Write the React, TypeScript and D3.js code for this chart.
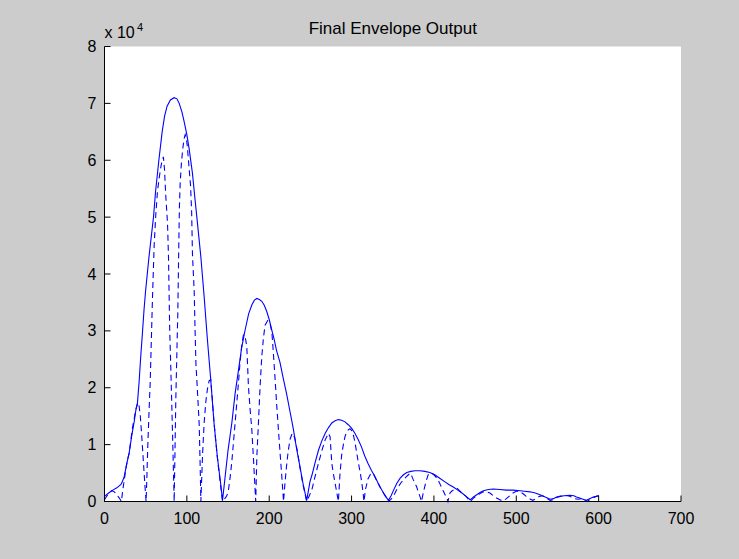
import React from "react";
import * as d3 from "d3";

// Axis ticks (y values are in units of 10^4)
const xTicks = [0, 100, 200, 300, 400, 500, 600, 700];
const yTicks = [0, 1, 2, 3, 4, 5, 6, 7, 8];

const titleText = "Final Envelope Output";

// Envelope (solid line): [sample, amplitude ×10^4]
const envelope: [number, number][] = [
  [0, 0.09], [5, 0.15], [10, 0.2], [15, 0.24], [20, 0.3], [22, 0.36], [24, 0.44], [27, 0.66],
  [30, 0.86], [33, 1.15], [36, 1.4], [38, 1.6], [40, 1.73], [42, 2.1], [44, 2.55], [46, 2.95],
  [48, 3.37], [50, 3.72], [54, 4.3], [59.5, 5.0], [62, 5.45], [66, 6.0], [70, 6.5], [73, 6.78],
  [76, 6.95], [80, 7.06], [84.5, 7.1], [88, 7.08], [90.7, 7.0], [94, 6.85], [96.7, 6.68],
  [100, 6.45], [102.8, 6.2], [106.8, 5.77], [110, 5.3], [112.9, 4.89], [117, 4.3], [121, 3.6],
  [125, 2.84], [129, 2.14], [133, 1.38], [137, 0.79], [141, 0.32], [143.3, 0.02],
  [146.5, 0.44], [150, 0.9], [154.6, 1.38], [158.6, 1.9], [162.6, 2.3], [166.5, 2.7],
  [170.8, 3.02], [175, 3.3], [179, 3.46], [182, 3.54], [185, 3.57], [188, 3.55], [191, 3.52],
  [194, 3.45], [197, 3.34], [200, 3.2], [203, 3.02], [206, 2.85], [209, 2.65], [213, 2.45],
  [217, 2.17], [221, 1.9], [225, 1.6], [229, 1.3], [233, 0.95], [237.5, 0.6], [241, 0.32],
  [245.5, 0.02],
  [249.5, 0.35], [252, 0.47], [256, 0.7], [260, 0.91], [264, 1.07], [268, 1.2], [272, 1.3],
  [276, 1.38], [280, 1.42], [284, 1.44], [288, 1.43], [292, 1.4], [296, 1.35], [300, 1.29],
  [304, 1.2], [308, 1.09], [312, 0.96], [316, 0.8], [320, 0.67], [324, 0.55], [328, 0.45],
  [332, 0.33], [336, 0.22], [340, 0.12], [344.7, 0.02],
  [348, 0.1], [351, 0.2], [355, 0.32], [359, 0.41], [363, 0.47], [367, 0.51], [372, 0.53],
  [377, 0.54], [383, 0.54], [389, 0.53], [395, 0.51], [401, 0.47], [407, 0.41], [413, 0.35],
  [418, 0.3], [424, 0.25], [429, 0.2], [434, 0.15], [439, 0.09], [444, 0.03],
  [448, 0.08], [452, 0.12], [456, 0.16], [460, 0.19], [466, 0.21], [472, 0.22], [480, 0.21],
  [488, 0.2], [496, 0.2], [504.5, 0.19], [510, 0.18], [516.6, 0.17], [523, 0.15],
  [528.8, 0.12], [535, 0.08], [541, 0.04],
  [545, 0.05], [549, 0.08], [553, 0.09], [558, 0.1], [565, 0.11], [570, 0.1], [573, 0.08],
  [577, 0.06], [581, 0.04], [585, 0.02], [589, 0.05], [593.5, 0.08], [597, 0.09], [600, 0.1],
];

// Rectified signal (dashed line): [sample, amplitude ×10^4]
const rectified: [number, number][] = [
  [0, 0.03], [3, 0.1], [6, 0.16], [9, 0.19], [12, 0.17], [15, 0.12], [18, 0.06], [20.5, 0],
  [22, 0.18], [24, 0.38], [26, 0.58], [28, 0.74], [30, 0.85], [32, 1.08], [34, 1.3], [36, 1.45],
  [38, 1.62], [40.5, 1.74], [42, 1.68], [43.5, 1.5], [45, 1.2], [47, 0.75], [49, 0.3], [50.5, 0],
  [51.5, 0.45], [52.5, 0.95], [54, 1.55], [55.5, 2.1], [57, 2.9], [58.3, 3.6], [60.3, 4.5],
  [62.3, 5.05], [64.3, 5.45], [66.5, 5.7], [68.4, 5.88], [70, 6.0], [71.5, 6.06], [72.8, 5.85],
  [74.5, 5.35], [76.5, 4.9], [77.7, 4.3], [78.5, 3.6], [79.2, 3.0], [80.6, 2.3], [82.6, 1.2],
  [84.6, 0],
  [85.6, 0.9], [86.6, 1.8], [88, 2.7], [89, 3.3], [89.6, 3.9], [90.3, 4.6], [91, 5.2],
  [91.9, 5.6], [93.4, 5.95], [95, 6.2], [96.7, 6.38], [98, 6.45], [99.3, 6.4], [100.5, 6.25],
  [102.8, 5.85], [104.5, 5.55], [105.8, 5.1], [106.8, 4.35], [108.9, 3.7], [110, 3.0],
  [111, 2.43], [113, 1.9], [115, 1.35], [116.2, 0.6], [117, 0],
  [118, 0.4], [119, 0.8], [120, 1.1], [121, 1.38], [123, 1.75], [125, 1.98], [127, 2.12],
  [129, 2.14], [131, 1.78], [133, 1.38], [135, 1.08], [137, 0.78], [139, 0.52], [141, 0.28],
  [143.3, 0],
  [146, 0.05], [148.5, 0.1], [150.5, 0.2], [152.5, 0.42], [154.6, 0.7], [156.6, 1.04],
  [158.6, 1.38], [160.6, 1.73], [162.6, 2.08], [164.6, 2.45], [166.7, 2.75], [168.7, 2.93],
  [170.8, 2.9], [172.8, 2.72], [174.8, 2.02], [176.8, 1.62], [178.9, 1.26], [181, 0.72],
  [182.9, 0.2], [183.6, 0],
  [185, 0.8], [186.9, 1.38], [189, 2.05], [191, 2.55], [193, 2.88], [195, 3.1], [198, 3.18],
  [201, 3.13], [203.2, 2.98], [205, 2.62], [207.2, 2.14], [209, 1.72], [211.2, 1.26],
  [213.2, 0.85], [215.3, 0.44], [217.4, 0],
  [219, 0.3], [221, 0.62], [223, 0.88], [225.4, 1.1], [228, 1.2], [231, 1.12], [234, 0.9],
  [237.5, 0.58], [241, 0.3], [245.5, 0],
  [248, 0.08], [251.7, 0.2], [255.7, 0.44], [259.7, 0.67], [263.7, 0.88], [267.8, 1.08],
  [271.8, 1.2], [273.9, 1.14], [276, 0.67], [278, 0.48], [280, 0.32], [282, 0.16], [284, 0],
  [286, 0.5], [288, 0.82], [290, 1.0], [292, 1.14], [294, 1.22], [296, 1.26], [298, 1.28],
  [300, 1.25], [302, 1.18], [304, 1.05], [306, 0.88], [308, 0.7], [310.6, 0.5], [312.5, 0.32],
  [314, 0.15], [315, 0],
  [317, 0.22], [320, 0.4], [323, 0.48], [326, 0.5], [330, 0.38], [334.6, 0.25], [340, 0.12],
  [344.7, 0],
  [348, 0.04], [350.7, 0.09], [353.8, 0.18], [356.8, 0.26], [360, 0.33], [362.9, 0.38],
  [366, 0.43], [369, 0.47], [371, 0.5], [373, 0.45], [375, 0.38], [377, 0.32], [379, 0.26],
  [381, 0.17], [383, 0.09], [385, 0],
  [387, 0.15], [389, 0.27], [391, 0.38], [393, 0.47], [395, 0.49], [397, 0.5], [400, 0.47],
  [403, 0.42], [405, 0.38], [407.3, 0.31], [409.5, 0.24], [411.5, 0.18], [413.5, 0.12],
  [415.5, 0.06], [417, 0],
  [419.5, 0.15], [421.5, 0.18], [423.4, 0.2], [425.5, 0.22], [427.7, 0.24], [431, 0.19],
  [434, 0.15], [439, 0.09], [444, 0],
  [448, 0.06], [452, 0.1], [456, 0.14], [460, 0.17], [464, 0.17], [468, 0.15], [472, 0.1],
  [476, 0.06], [480, 0.03], [484, 0.01], [488, 0.05], [492, 0.1], [496, 0.15], [500, 0.18],
  [504, 0.18], [508, 0.14], [512, 0.09], [516, 0.05], [520, 0.02], [524, 0.05], [528, 0.09],
  [532, 0.1], [536, 0.07], [541, 0.02],
  [545, 0.03], [549, 0.07], [553, 0.09], [558, 0.1], [563, 0.1], [567, 0.08], [571, 0.05],
  [575, 0.04], [579, 0.05], [583, 0.02], [586, 0], [590, 0.04], [594, 0.07], [597, 0.09],
  [600, 0.1],
];

const W = 739;
const H = 559;
const FONT = "'Liberation Sans', Arial, Helvetica, sans-serif";
const BLUE = "#0000ff";

export default function App() {
  const x = d3.scaleLinear().domain([0, 700]).range([104.5, 681]);
  const y = d3.scaleLinear().domain([0, 8]).range([501.5, 46.5]);
  const line = d3
    .line<[number, number]>()
    .x((d) => x(d[0]))
    .y((d) => y(d[1]));
  const tickLen = 6;
  const [x0, x1] = x.range();
  const [y0, y1] = y.range();

  return (
    <svg
      width={W}
      height={H}
      viewBox={`0 0 ${W} ${H}`}
      style={{ position: "absolute", left: 0, top: 0, display: "block" }}
      fontFamily={FONT}
    >
      <rect x={0} y={0} width={W} height={H} fill="#cccccc" />
      <rect x={x0} y={y1} width={x1 - x0} height={y0 - y1} fill="#ffffff" />

      {/* data */}
      <path d={line(rectified) ?? ""} fill="none" stroke={BLUE} strokeWidth={1.1} strokeDasharray="6,4" />
      <path d={line(envelope) ?? ""} fill="none" stroke={BLUE} strokeWidth={1.1} />

      {/* axes */}
      <line x1={x0} x2={x0} y1={y1} y2={y0} stroke="#000" strokeWidth={1} />
      <line x1={x0} x2={x1} y1={y0} y2={y0} stroke="#000" strokeWidth={1} />
      {xTicks.map((t) => (
        <g key={`xt${t}`}>
          <line x1={x(t)} x2={x(t)} y1={y0} y2={y0 - tickLen} stroke="#000" strokeWidth={1} />
          <text x={x(t)} y={y0 + 22} textAnchor="middle" fontSize={16} fill="#000">
            {t}
          </text>
        </g>
      ))}
      {yTicks.map((t) => (
        <g key={`yt${t}`}>
          <line x1={x0} x2={x0 + tickLen} y1={y(t)} y2={y(t)} stroke="#000" strokeWidth={1} />
          <text x={x0 - 8} y={y(t) + 5.5} textAnchor="end" fontSize={16} fill="#000">
            {t}
          </text>
        </g>
      ))}

      {/* exponent */}
      <text x={x0} y={38} fontSize={16} fill="#000">
        x 10
      </text>
      <text x={x0 + 32.5} y={31} fontSize={11} fill="#000">
        4
      </text>

      {/* title */}
      <text x={(x0 + x1) / 2} y={34} textAnchor="middle" fontSize={17} fill="#000">
        {titleText}
      </text>
    </svg>
  );
}
